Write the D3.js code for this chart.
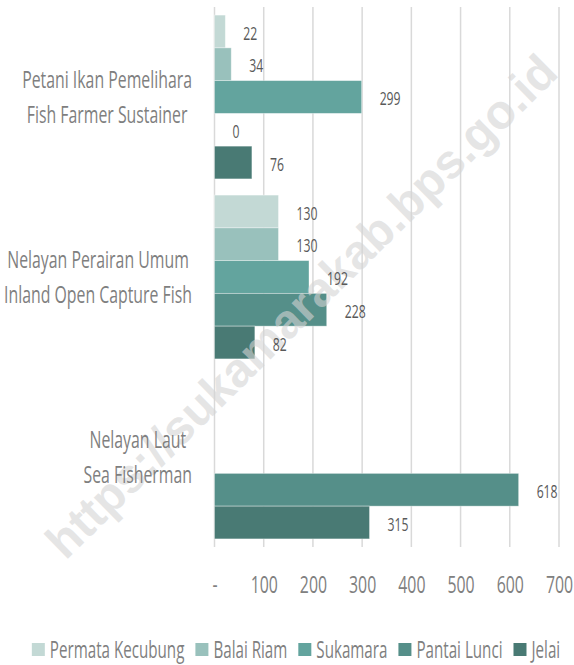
<!DOCTYPE html>
<html>
<head>
<meta charset="utf-8">
<script src="https://cdn.jsdelivr.net/npm/d3@7"></script>
<style>
  body { margin: 0; background: #fff; }
  svg text { font-family: "Open Sans", sans-serif; }
</style>
</head>
<body>
<div id="chart"></div>
<script>
var categories = [
    ["Petani Ikan Pemelihara", "Fish Farmer Sustainer"],
    ["Nelayan Perairan Umum", "Inland Open Capture Fish"],
    ["Nelayan Laut", "Sea Fisherman"]
];
var seriesNames = ["Permata Kecubung", "Balai Riam", "Sukamara", "Pantai Lunci", "Jelai"];
var permataKecubung = [22, 130, null];
var balaiRiam = [34, 130, null];
var sukamara = [299, 192, null];
var pantaiLunci = [0, 228, 618];
var jelai = [76, 82, 315];
var xTicks = [0, 100, 200, 300, 400, 500, 600, 700];
var colors = ["#c3d9d5", "#99c1bc", "#63a49e", "#558f89", "#497a74"];

const WIDTH = 574;
const HEIGHT = 665;
const SX = 0.66; // horizontal squeeze to mimic a condensed face

var seriesValues = [permataKecubung, balaiRiam, sukamara, pantaiLunci, jelai];

var place = function (x, y) {
    return "translate(" + x + "," + y + ") scale(" + SX + ",1)";
};

var svg = d3.select("#chart").append("svg")
    .attr("width", WIDTH)
    .attr("height", HEIGHT);

var xScale = d3.scaleLinear()
    .domain([0, 700])
    .range([214.5, 559]);

var yScale = d3.scaleBand()
    .domain(d3.range(categories.length))
    .range([7, 547])
    .paddingInner(0.09)
    .paddingOuter(0.045);

var seriesScale = d3.scaleBand()
    .domain(d3.range(seriesNames.length))
    .range([0, yScale.bandwidth()]);

// gridlines
svg.append("g").selectAll("line")
    .data(xTicks)
    .enter().append("line")
    .attr("x1", function (d) { return xScale(d); })
    .attr("x2", function (d) { return xScale(d); })
    .attr("y1", 7)
    .attr("y2", 547)
    .attr("stroke", "#d9d9d9")
    .attr("stroke-width", 1.5);

// x axis labels
var xAxis = d3.axisBottom(xScale)
    .tickValues(xTicks)
    .tickSize(0)
    .tickPadding(0)
    .tickFormat(function (d) { return d === 0 ? "-" : d; });

var axisG = svg.append("g")
    .attr("transform", "translate(0,593)")
    .call(xAxis)
    .attr("font-family", null)
    .attr("font-size", null);
axisG.select(".domain").remove();
axisG.selectAll("text")
    .attr("dy", null)
    .attr("y", null)
    .attr("transform", place(0, 0))
    .attr("fill", "#808080")
    .style("font-size", "24px");

// bars
var rows = [];
categories.forEach(function (c, ci) {
    seriesValues.forEach(function (vals, si) {
        rows.push({ cat: ci, s: si, v: vals[ci] });
    });
});
var present = rows.filter(function (d) { return d.v !== null; });

svg.append("g").selectAll("rect")
    .data(present)
    .enter().append("rect")
    .attr("x", xScale(0))
    .attr("y", function (d) { return yScale(d.cat) + seriesScale(d.s); })
    .attr("width", function (d) { return xScale(d.v) - xScale(0); })
    .attr("height", seriesScale.bandwidth())
    .attr("fill", function (d) { return colors[d.s]; })
    .attr("stroke", "#ffffff")
    .attr("stroke-opacity", 0.45)
    .attr("stroke-width", 0.8);

// watermark
svg.append("text")
    .attr("transform", "translate(301,306) rotate(-44.5)")
    .attr("text-anchor", "middle")
    .attr("dy", "0.35em")
    .attr("fill", "#d4d4d4")
    .attr("fill-opacity", 0.6)
    .style("font-family", "'Liberation Sans', Arial, sans-serif")
    .style("font-weight", "bold")
    .style("font-size", "48px")
    .text("https://sukamarakab.bps.go.id");

// value labels
svg.append("g").selectAll("text")
    .data(present)
    .enter().append("text")
    .attr("transform", function (d) {
        return place(xScale(d.v) + 18, yScale(d.cat) + seriesScale(d.s) + seriesScale.bandwidth() / 2 + 1.5);
    })
    .attr("dy", "0.36em")
    .attr("fill", "#595959")
    .style("font-size", "18.5px")
    .text(function (d) { return d.v; });

// category labels, lines centred inside a right-aligned block
var catG = svg.append("g");
categories.forEach(function (lines, ci) {
    var g = catG.append("g");
    var texts = g.selectAll("text")
        .data(lines)
        .enter().append("text")
        .attr("dy", "0.36em")
        .attr("text-anchor", "middle")
        .attr("fill", "#7f7f7f")
        .style("font-size", "24px")
        .text(function (d) { return d; });
    var maxW = d3.max(texts.nodes(), function (n) { return n.getComputedTextLength(); }) * SX;
    texts.attr("transform", function (d, i) {
        var y = yScale(ci) + yScale.bandwidth() / 2 + (i - (lines.length - 1) / 2) * 35;
        return place(192 - maxW / 2, y);
    });
});

// legend
var legend = svg.append("g");
var lx = 0;
seriesNames.forEach(function (name, i) {
    var item = legend.append("g").attr("transform", "translate(" + lx + ",0)");
    item.append("rect")
        .attr("x", 0)
        .attr("y", -7)
        .attr("width", 13)
        .attr("height", 13)
        .attr("fill", colors[i]);
    var t = item.append("text")
        .attr("transform", place(18, 0))
        .attr("dy", "0.36em")
        .attr("fill", "#7f7f7f")
        .style("font-size", "23px")
        .text(name);
    lx += 18 + t.node().getComputedTextLength() * SX + 11;
});
legend.attr("transform", "translate(" + (296 - (lx - 11) / 2) + ",650)");
</script>
</body>
</html>
